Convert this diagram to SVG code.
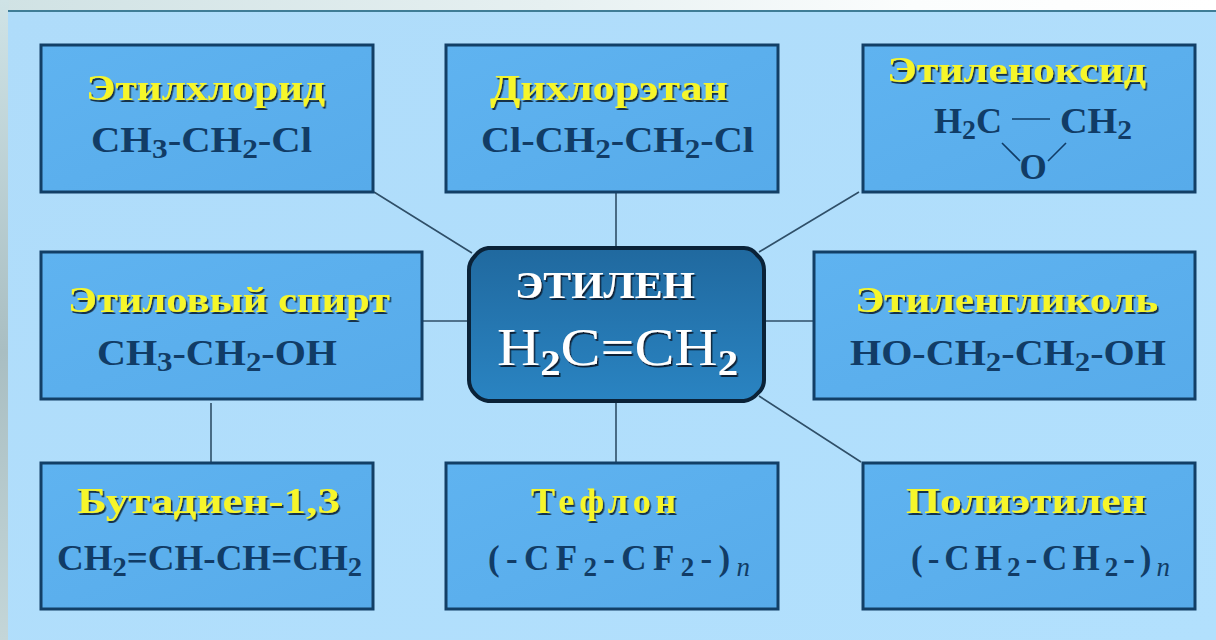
<svg xmlns="http://www.w3.org/2000/svg" width="1216" height="640" viewBox="0 0 1216 640">
<style>
.box{fill:url(#boxFill);stroke:#123F66;stroke-width:3}
.t{font-family:"Liberation Serif",serif;font-weight:bold;font-size:36px;fill:#F6F62A;filter:url(#sh)}
.f{font-family:"Liberation Serif",serif;font-weight:bold;font-size:35px;fill:#113C66}
.s{font-size:27px}
.w{font-family:"Liberation Serif",serif;fill:#fff;filter:url(#shw)}
.c{stroke:#2F4F68;stroke-width:1.6;fill:none}
.b{stroke:#113C66;stroke-width:1.6;fill:none}
</style>
<defs>
<linearGradient id="bg" x1="0" y1="0" x2="1" y2="1"><stop offset="0" stop-color="#AFDCFA"/><stop offset="1" stop-color="#B2E0FD"/></linearGradient>
<linearGradient id="top" x1="0" y1="0" x2="1" y2="0"><stop offset="0" stop-color="#D0E2E4"/><stop offset=".45" stop-color="#E6F0F1"/><stop offset=".75" stop-color="#FBFDFD"/><stop offset="1" stop-color="#FFFFFF"/></linearGradient>
<linearGradient id="left" x1="0" y1="0" x2="0" y2="1"><stop offset="0" stop-color="#CFE3E6"/><stop offset=".55" stop-color="#A9BEC2"/><stop offset="1" stop-color="#C4D6D8"/></linearGradient>
<linearGradient id="boxFill" x1="0" y1="0" x2="1" y2="1"><stop offset="0" stop-color="#5FB3F0"/><stop offset="1" stop-color="#57ABEA"/></linearGradient>
<linearGradient id="mid" x1="0" y1="0" x2="0" y2="1"><stop offset="0" stop-color="#20699F"/><stop offset="1" stop-color="#2A84C2"/></linearGradient>
<filter id="sh" x="-5%" y="-20%" width="110%" height="140%"><feDropShadow dx="1.5" dy="2" stdDeviation=".4" flood-color="#16324A"/></filter>
<filter id="shw" x="-5%" y="-20%" width="110%" height="140%"><feDropShadow dx="1.5" dy="2" stdDeviation=".5" flood-color="#0B2238"/></filter>
</defs>
<rect width="1216" height="640" fill="url(#top)"/>
<rect width="9" height="640" fill="url(#left)"/>
<rect x="8" y="11" width="1208" height="629" fill="url(#bg)"/>
<line x1="8" y1="11" x2="1216" y2="11" stroke="#3F7D96" stroke-width="2"/>
<g id="connectors">
<path class="c" d="M374 192L472 253M616 192V247M859 192L759 252M422 321H468M764 321H814M211 403V463M616 402V463M759 396L861 462"/>
</g>
<g id="n1"><rect class="box" x="41" y="45" width="332" height="147"/>
<text class="t" x="86" y="100" textLength="239" lengthAdjust="spacingAndGlyphs">Этилхлорид</text>
<text class="f" x="91" y="152" textLength="221" lengthAdjust="spacingAndGlyphs">CH<tspan class="s" dy="6">3</tspan><tspan dy="-6">-CH</tspan><tspan class="s" dy="6">2</tspan><tspan dy="-6">-Cl</tspan></text></g>
<g id="n2"><rect class="box" x="446" y="45" width="332" height="147"/>
<text class="t" x="490" y="100" textLength="238" lengthAdjust="spacingAndGlyphs">Дихлорэтан</text>
<text class="f" x="481" y="152" textLength="273" lengthAdjust="spacingAndGlyphs">Cl-CH<tspan class="s" dy="6">2</tspan><tspan dy="-6">-CH</tspan><tspan class="s" dy="6">2</tspan><tspan dy="-6">-Cl</tspan></text></g>
<g id="n3"><rect class="box" x="863" y="45" width="332" height="147"/>
<text class="t" x="887" y="82" textLength="259" lengthAdjust="spacingAndGlyphs">Этиленоксид</text>
<text class="f" x="934" y="133" textLength="68" lengthAdjust="spacingAndGlyphs">H<tspan class="s" dy="6">2</tspan><tspan dy="-6">C</tspan></text>
<text class="f" x="1060" y="133" textLength="72" lengthAdjust="spacingAndGlyphs">CH<tspan class="s" dy="6">2</tspan></text>
<text class="f" x="1033" y="179" text-anchor="middle">O</text>
<path class="b" d="M1012 119H1050M1002 143L1020 161M1066 143L1048 161"/></g>
<g id="n4"><rect class="box" x="41" y="252" width="381" height="147"/>
<text class="t" x="68" y="312" textLength="322" lengthAdjust="spacingAndGlyphs">Этиловый спирт</text>
<text class="f" x="97" y="365" textLength="240" lengthAdjust="spacingAndGlyphs">CH<tspan class="s" dy="6">3</tspan><tspan dy="-6">-CH</tspan><tspan class="s" dy="6">2</tspan><tspan dy="-6">-OH</tspan></text></g>
<g id="n5"><rect class="box" x="814" y="252" width="381" height="147"/>
<text class="t" x="855" y="312" textLength="303" lengthAdjust="spacingAndGlyphs">Этиленгликоль</text>
<text class="f" x="850" y="365" textLength="316" lengthAdjust="spacingAndGlyphs">HO-CH<tspan class="s" dy="6">2</tspan><tspan dy="-6">-CH</tspan><tspan class="s" dy="6">2</tspan><tspan dy="-6">-OH</tspan></text></g>
<g id="n6"><rect class="box" x="41" y="463" width="332" height="146"/>
<text class="t" x="77" y="513" textLength="263" lengthAdjust="spacingAndGlyphs">Бутадиен-1,3</text>
<text class="f" x="57" y="570" textLength="305" lengthAdjust="spacingAndGlyphs">CH<tspan class="s" dy="6">2</tspan><tspan dy="-6">=CH-CH=CH</tspan><tspan class="s" dy="6">2</tspan></text></g>
<g id="n7"><rect class="box" x="446" y="463" width="332" height="146"/>
<text class="t" x="531" y="513" textLength="145" lengthAdjust="spacing">Тефлон</text>
<text class="f" x="488" y="570" textLength="262" lengthAdjust="spacing">(-CF<tspan class="s" dy="6">2</tspan><tspan dy="-6">-CF</tspan><tspan class="s" dy="6">2</tspan><tspan dy="-6">-)</tspan><tspan class="s" dy="6" font-style="italic" font-weight="normal">n</tspan></text></g>
<g id="n8"><rect class="box" x="863" y="463" width="332" height="146"/>
<text class="t" x="906" y="513" textLength="240" lengthAdjust="spacingAndGlyphs">Полиэтилен</text>
<text class="f" x="911" y="570" textLength="259" lengthAdjust="spacing">(-CH<tspan class="s" dy="6">2</tspan><tspan dy="-6">-CH</tspan><tspan class="s" dy="6">2</tspan><tspan dy="-6">-)</tspan><tspan class="s" dy="6" font-style="italic" font-weight="normal">n</tspan></text></g>
<g id="center"><path d="M488 248H744Q752 248 757 255L760 258Q764 263 764 270V380Q764 388 758 393Q752 400 744 401H488Q480 400 475 394Q469 388 469 380V270Q469 262 475 256Q480 249 488 248Z" fill="url(#mid)" stroke="#0A2238" stroke-width="4" stroke-linejoin="round"/>
<text class="w" x="515" y="298" font-size="38" font-weight="bold" textLength="180" lengthAdjust="spacingAndGlyphs">ЭТИЛЕН</text>
<text class="w" x="497" y="365" font-size="53" textLength="241" lengthAdjust="spacingAndGlyphs">H<tspan font-size="36" font-weight="bold" dy="10">2</tspan><tspan dy="-10">C=CH</tspan><tspan font-size="36" font-weight="bold" dy="10">2</tspan></text></g>
</svg>
